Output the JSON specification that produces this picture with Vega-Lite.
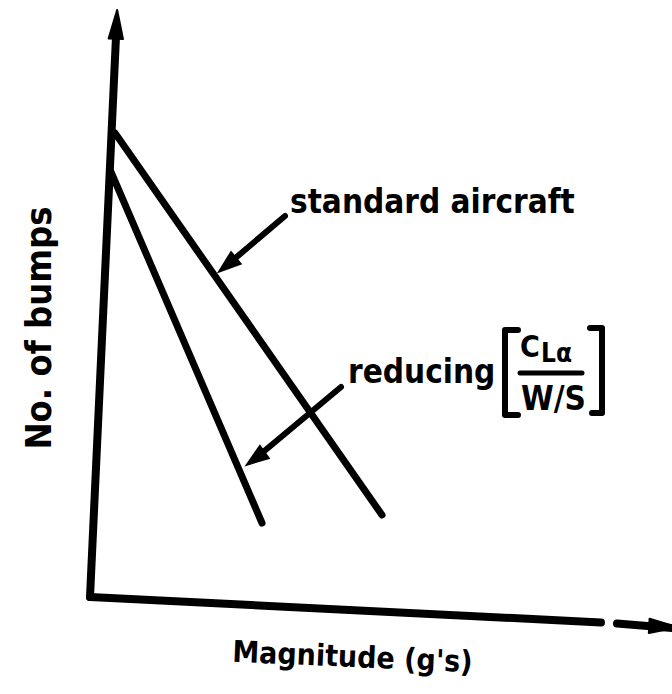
{
  "$schema": "https://vega.github.io/schema/vega-lite/v6.json",
  "width": 672,
  "height": 694,
  "padding": 0,
  "autosize": {"type": "none"},
  "background": "white",
  "config": {"view": {"stroke": null}},
  "datasets": {
    "segments": [
      {"path": "y-axis", "part": "axis", "order": 0, "x": 0, "y": 0},
      {"path": "y-axis", "part": "axis", "order": 1, "x": 0.53, "y": 11.42},
      {"path": "x-axis", "part": "axis", "order": 0, "x": 0, "y": 0},
      {"path": "x-axis", "part": "axis", "order": 1, "x": 10.22, "y": -0.51},
      {"path": "x-axis-end", "part": "axis", "order": 0, "x": 10.54, "y": -0.53},
      {"path": "x-axis-end", "part": "axis", "order": 1, "x": 11.64, "y": -0.62},
      {"path": "standard aircraft", "part": "curve", "order": 0, "x": 0.5, "y": 9.28},
      {"path": "standard aircraft", "part": "curve", "order": 1, "x": 5.84, "y": 1.64},
      {"path": "reducing", "part": "curve", "order": 0, "x": 0.42, "y": 8.5},
      {"path": "reducing", "part": "curve", "order": 1, "x": 3.44, "y": 1.48},
      {"path": "pointer standard", "part": "pointer", "order": 0, "x": 3.9, "y": 7.62},
      {"path": "pointer standard", "part": "pointer", "order": 1, "x": 2.734, "y": 6.632},
      {"path": "pointer reducing", "part": "pointer", "order": 0, "x": 5.02, "y": 4.2},
      {"path": "pointer reducing", "part": "pointer", "order": 1, "x": 3.296, "y": 2.762},
      {"path": "bracket left", "part": "bracket", "order": 0, "x": 8.56, "y": 5.34},
      {"path": "bracket left", "part": "bracket", "order": 1, "x": 8.3, "y": 5.34},
      {"path": "bracket left", "part": "bracket", "order": 2, "x": 8.3, "y": 3.64},
      {"path": "bracket left", "part": "bracket", "order": 3, "x": 8.56, "y": 3.64},
      {"path": "bracket right", "part": "bracket", "order": 0, "x": 10.0, "y": 5.38},
      {"path": "bracket right", "part": "bracket", "order": 1, "x": 10.24, "y": 5.38},
      {"path": "bracket right", "part": "bracket", "order": 2, "x": 10.24, "y": 3.68},
      {"path": "bracket right", "part": "bracket", "order": 3, "x": 10.04, "y": 3.68},
      {"path": "fraction bar", "part": "bar", "order": 0, "x": 8.6, "y": 4.48},
      {"path": "fraction bar", "part": "bar", "order": 1, "x": 9.84, "y": 4.48}
    ],
    "heads": [
      {"name": "y-axis", "x": 0.528, "y": 11.42},
      {"name": "x-axis", "x": 11.44, "y": -0.59},
      {"name": "pointer standard", "x": 2.734, "y": 6.632},
      {"name": "pointer reducing", "x": 3.296, "y": 2.762}
    ],
    "labels": [
      {"role": "note", "text": "standard aircraft", "x": 4.0, "y": 7.68},
      {"role": "note", "text": "reducing", "x": 5.16, "y": 4.28},
      {"role": "C", "text": "C", "x": 8.6, "y": 4.8},
      {"role": "sub", "text": "Lα", "x": 9.02, "y": 4.7},
      {"role": "den", "text": "W/S", "x": 9.27, "y": 3.74},
      {"role": "xtitle", "text": "Magnitude (g's)", "x": 5.24, "y": -1.4},
      {"role": "ytitle", "text": "No. of bumps", "x": -1.0, "y": 5.38}
    ]
  },
  "encoding": {
    "x": {"field": "x", "type": "quantitative", "scale": {"domain": [-1.8, 11.64], "nice": false, "zero": false}, "axis": null},
    "y": {"field": "y", "type": "quantitative", "scale": {"domain": [-1.94, 11.94], "nice": false, "zero": false}, "axis": null}
  },
  "layer": [
    {
      "data": {"name": "segments"},
      "transform": [{"filter": "datum.part === 'axis'"}],
      "mark": {"type": "line", "color": "black", "strokeWidth": 8, "strokeCap": "round", "strokeJoin": "round"},
      "encoding": {"detail": {"field": "path"}, "order": {"field": "order"}}
    },
    {
      "data": {"name": "segments"},
      "transform": [{"filter": "datum.part === 'curve'"}],
      "mark": {"type": "line", "color": "black", "strokeWidth": 7, "strokeCap": "round"},
      "encoding": {"detail": {"field": "path"}, "order": {"field": "order"}}
    },
    {
      "data": {"name": "segments"},
      "transform": [{"filter": "datum.part === 'pointer'"}],
      "mark": {"type": "line", "color": "black", "strokeWidth": 6, "strokeCap": "round"},
      "encoding": {"detail": {"field": "path"}, "order": {"field": "order"}}
    },
    {
      "data": {"name": "segments"},
      "transform": [{"filter": "datum.part === 'bracket'"}],
      "mark": {"type": "line", "color": "black", "strokeWidth": 6, "strokeCap": "round", "strokeJoin": "round"},
      "encoding": {"detail": {"field": "path"}, "order": {"field": "order"}}
    },
    {
      "data": {"name": "segments"},
      "transform": [{"filter": "datum.part === 'bar'"}],
      "mark": {"type": "line", "color": "black", "strokeWidth": 5, "strokeCap": "round"},
      "encoding": {"detail": {"field": "path"}, "order": {"field": "order"}}
    },
    {
      "data": {"name": "heads"},
      "transform": [{"filter": "datum.name === 'y-axis'"}],
      "mark": {"type": "point", "filled": true, "color": "black", "opacity": 1, "shape": "M0,-1L0.45,0.8L-0.45,0.8Z", "size": 1024, "angle": 2.65, "strokeJoin": "round", "strokeWidth": 2, "stroke": "black"}
    },
    {
      "data": {"name": "heads"},
      "transform": [{"filter": "datum.name === 'x-axis'"}],
      "mark": {"type": "point", "filled": true, "color": "black", "opacity": 1, "shape": "M0,-1L0.45,0.8L-0.45,0.8Z", "size": 1024, "angle": 92.9, "strokeJoin": "round", "strokeWidth": 2, "stroke": "black"}
    },
    {
      "data": {"name": "heads"},
      "transform": [{"filter": "datum.name === 'pointer standard'"}],
      "mark": {"type": "point", "filled": true, "color": "black", "opacity": 1, "shape": "M0,-1L0.7,1L-0.7,1Z", "size": 650, "angle": 231}
    },
    {
      "data": {"name": "heads"},
      "transform": [{"filter": "datum.name === 'pointer reducing'"}],
      "mark": {"type": "point", "filled": true, "color": "black", "opacity": 1, "shape": "M0,-1L0.7,1L-0.7,1Z", "size": 650, "angle": 234}
    },
    {
      "data": {"name": "labels"},
      "transform": [{"filter": "datum.role === 'note'"}],
      "mark": {"type": "text", "align": "left", "baseline": "alphabetic", "font": "DejaVu Sans Condensed", "fontWeight": "bold", "fontSize": 33, "color": "black"},
      "encoding": {"text": {"field": "text"}}
    },
    {
      "data": {"name": "labels"},
      "transform": [{"filter": "datum.role === 'C'"}],
      "mark": {"type": "text", "align": "left", "baseline": "alphabetic", "font": "DejaVu Sans Condensed", "fontWeight": "bold", "fontSize": 30, "color": "black"},
      "encoding": {"text": {"field": "text"}}
    },
    {
      "data": {"name": "labels"},
      "transform": [{"filter": "datum.role === 'sub'"}],
      "mark": {"type": "text", "align": "left", "baseline": "alphabetic", "font": "DejaVu Sans Condensed", "fontWeight": "bold", "fontSize": 26, "color": "black"},
      "encoding": {"text": {"field": "text"}}
    },
    {
      "data": {"name": "labels"},
      "transform": [{"filter": "datum.role === 'den'"}],
      "mark": {"type": "text", "align": "center", "baseline": "alphabetic", "font": "DejaVu Sans Condensed", "fontWeight": "bold", "fontSize": 33, "color": "black"},
      "encoding": {"text": {"field": "text"}}
    },
    {
      "data": {"name": "labels"},
      "transform": [{"filter": "datum.role === 'xtitle'"}],
      "mark": {"type": "text", "align": "center", "baseline": "alphabetic", "font": "DejaVu Sans Condensed", "fontWeight": "bold", "fontSize": 30, "angle": 2.5, "color": "black"},
      "encoding": {"text": {"field": "text"}}
    },
    {
      "data": {"name": "labels"},
      "transform": [{"filter": "datum.role === 'ytitle'"}],
      "mark": {"type": "text", "align": "center", "baseline": "middle", "font": "DejaVu Sans Condensed", "fontWeight": "bold", "fontSize": 36, "angle": 270, "color": "black"},
      "encoding": {"text": {"field": "text"}}
    }
  ]
}
